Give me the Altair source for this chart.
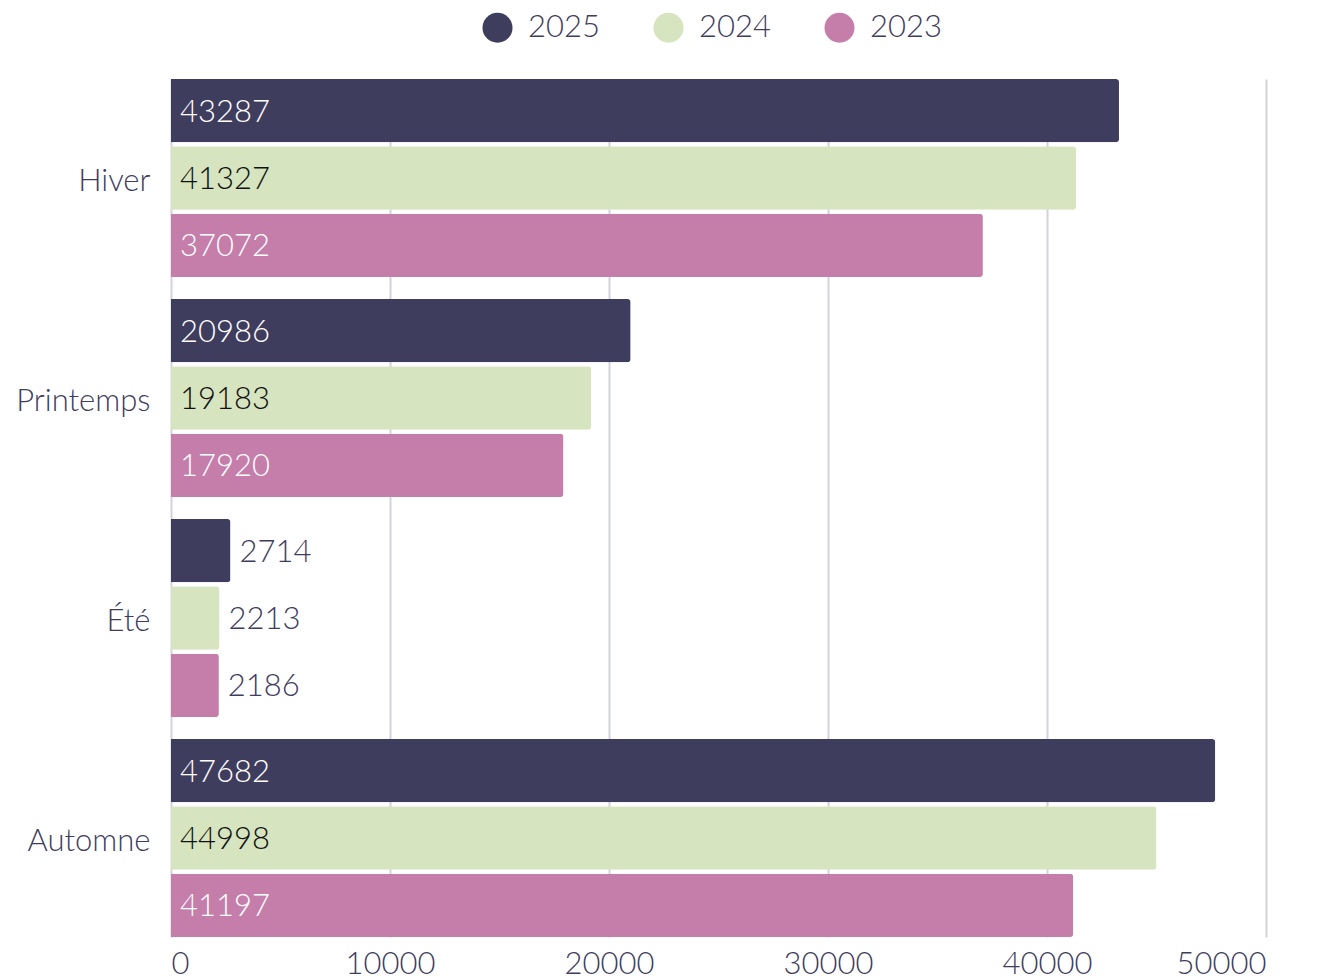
import altair as alt
import pandas as pd

seasons = ["Hiver", "Printemps", "Été", "Automne"]
years = ["2025", "2024", "2023"]
v2025 = [43287, 20986, 2714, 47682]
v2024 = [41327, 19183, 2213, 44998]
v2023 = [37072, 17920, 2186, 41197]
colors = ["#3f3d5e", "#d6e4c0", "#c57daa"]

rows = []
for i, s in enumerate(seasons):
    for y, vals in zip(years, [v2025, v2024, v2023]):
        rows.append({"saison": s, "annee": y, "valeur": vals[i]})
df = pd.DataFrame(rows)

FONT = "Lato"
FW = 300
FS = 31
DARK = "#3f3d5e"

base = alt.Chart(df).encode(
    y=alt.Y("saison:N", sort=seasons, title=None,
            scale=alt.Scale(paddingInner=0.1, paddingOuter=0),
            axis=alt.Axis(labelFontSize=FS, labelColor=DARK, labelFont=FONT,
                          labelFontWeight=FW, labelOffset=4,
                          ticks=False, domain=False, labelPadding=21)),
    yOffset=alt.YOffset("annee:N", sort=years,
                        scale=alt.Scale(paddingInner=0.06, paddingOuter=0)),
)

bars = base.mark_bar(cornerRadiusBottomRight=3, cornerRadiusTopRight=3).encode(
    x=alt.X("valeur:Q", title=None,
            scale=alt.Scale(domain=[0, 50000], nice=False),
            axis=alt.Axis(values=[0, 10000, 20000, 30000, 40000, 50000],
                          labelFontSize=FS, labelColor=DARK, labelFont=FONT,
                          labelFontWeight=FW,
                          ticks=False, domain=False, gridColor="#d3d3db",
                          gridWidth=2, labelPadding=12, format="d")),
    color=alt.Color("annee:N", sort=years,
                    scale=alt.Scale(domain=years, range=colors),
                    legend=alt.Legend(orient="none", legendX=311, legendY=-67,
                                      title=None, symbolType="circle",
                                      symbolSize=900, symbolStrokeWidth=0,
                                      labelFontSize=FS, labelColor=DARK, labelFont=FONT,
                                      labelFontWeight=FW, labelOffset=15,
                                      columnPadding=53, symbolOffset=0,
                                      direction="horizontal")),
)

labels = base.mark_text(align="left", baseline="middle", dx=9, dy=2, fontSize=FS,
                        font=FONT, fontWeight=FW).transform_calculate(
    pos="datum.valeur > 5000 ? 0 : datum.valeur",
    tcol="datum.valeur > 5000 ? (datum.annee == '2024' ? '#111111' : '#ffffff') : '" + DARK + "'",
).encode(
    x=alt.X("pos:Q"),
    text=alt.Text("valeur:Q", format="d"),
    color=alt.Color("tcol:N", scale=None),
)

chart = alt.layer(bars, labels).properties(
    width=1095, height=858, background="white",
    autosize=alt.AutoSizeParams(type="none"),
    padding={"left": 163, "top": 71, "right": 40, "bottom": 50},
).configure_view(stroke=None)

chart.save("out.html", embed_options={"renderer": "svg", "actions": False})
